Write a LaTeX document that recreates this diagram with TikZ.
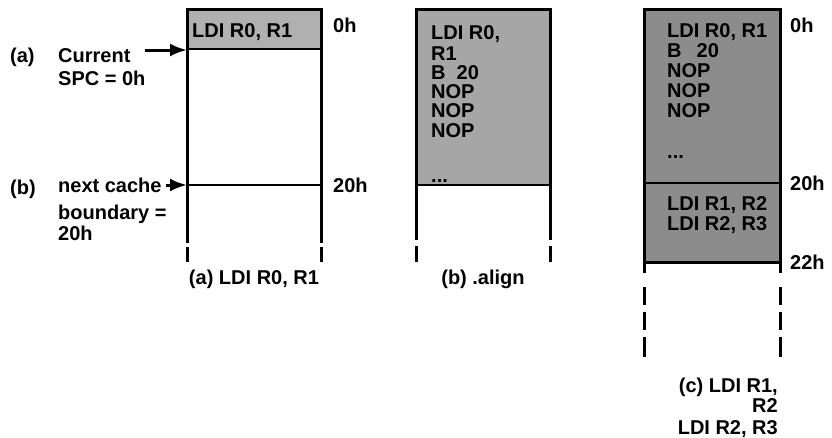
\documentclass[tikz,border=0pt]{standalone}
\usepackage{fontspec}
\setmainfont{Liberation Sans}
\usetikzlibrary{arrows.meta}
\definecolor{shadeA}{HTML}{B0B0B0}
\definecolor{shadeB}{HTML}{A6A6A6}
\definecolor{shadeC}{HTML}{8C8C8C}
\begin{document}
\begin{tikzpicture}[x=1pt,y=-1pt,
  txt/.style={font=\fontsize{20}{21}\selectfont\bfseries, inner sep=0pt, anchor=base west},
  rtxt/.style={txt, anchor=base east},
  ctxt/.style={txt, anchor=base},
  wall/.style={line width=3pt, line join=miter},
  divider/.style={line width=1.6pt},
  ptr/.style={line width=3pt, -{Latex[length=17pt,width=13pt]}}]
\useasboundingbox (0,0) rectangle (832,437);

% ---------- panel (a) ----------
\fill[shadeA] (187,9) rectangle (321,49);
\draw[wall] (187,243) -- (187,9) -- (321,9) -- (321,243);
\draw[divider] (187,49) -- (321,49);
\draw[divider] (187,185) -- (321,185);
\draw[wall] (187,247) -- (187,262);
\draw[wall] (321,247) -- (321,262);
\coordinate (aTop) at (187,50);
\coordinate (aBnd) at (187,185);
\node[txt] (aI1) at (192,37) {LDI R0, R1};
\node[txt] (a0h) at (333,32) {0h};
\node[txt] (a20h) at (333,192) {20h};
\node[txt] (la) at (10,62) {(a)};
\node[txt] (laL1) at (58,62) {Current};
\node[txt] (laL2) at (58,85) {SPC = 0h};
\node[txt] (lb) at (10,194) {(b)};
\node[txt] (lbL1) at (58,192) {next cache};
\node[txt] (lbL2) at (58,219) {boundary =};
\node[txt] (lbL3) at (58,240) {20h};
\coordinate (aArrS) at (145,50);
\coordinate (bArrS) at (166,185);
\draw[ptr] (aArrS) -- (aTop);
\draw[ptr] (bArrS) -- (aBnd);
\node[ctxt] (capA) at (254,284) {(a) LDI R0, R1};

% ---------- panel (b) ----------
\fill[shadeB] (416,9) rectangle (550,185);
\draw[wall] (416,240) -- (416,9) -- (550,9) -- (550,240);
\draw[divider] (416,185) -- (550,185);
\draw[wall] (416,246) -- (416,262);
\draw[wall] (550,246) -- (550,262);
\node[txt] (bI1) at (431,39) {LDI R0,};
\node[txt] (bI2) at (431,60) {R1};
\node[txt] (bI3) at (431,79) {B\hspace{11pt}20};
\node[txt] (bI4) at (431,98) {NOP};
\node[txt] (bI5) at (431,117) {NOP};
\node[txt] (bI6) at (431,137) {NOP};
\node[txt] (bI7) at (431,182) {...};
\node[ctxt] (capB) at (483,284) {(b) .align};

% ---------- panel (c) ----------
\fill[shadeC] (644,9) rectangle (780,262);
\draw[wall] (644,273) -- (644,9) -- (780,9) -- (780,273);
\draw[divider] (644,183) -- (780,183);
\draw[wall] (644,262) -- (780,262);
\foreach \ya/\yb in {287/305, 312/330, 337/357} {
  \draw[wall] (644,\ya) -- (644,\yb);
  \draw[wall] (780,\ya) -- (780,\yb);
}
\node[txt] (cI1) at (667,37) {LDI R0, R1};
\node[txt] (cI2) at (667,57) {B\hspace{15pt}20};
\node[txt] (cI3) at (667,77) {NOP};
\node[txt] (cI4) at (667,97) {NOP};
\node[txt] (cI5) at (667,117) {NOP};
\node[txt] (cI6) at (667,158) {...};
\node[txt] (cI7) at (667,210) {LDI R1, R2};
\node[txt] (cI8) at (667,230) {LDI R2, R3};
\node[txt] (c0h) at (790,32) {0h};
\node[txt] (c20h) at (790,190) {20h};
\node[txt] (c22h) at (790,269) {22h};
\node[rtxt] (capC1) at (778,392) {(c) LDI R1,};
\node[rtxt] (capC2) at (778,412) {R2};
\node[rtxt] (capC3) at (778,434) {LDI R2, R3};
\end{tikzpicture}
\end{document}
